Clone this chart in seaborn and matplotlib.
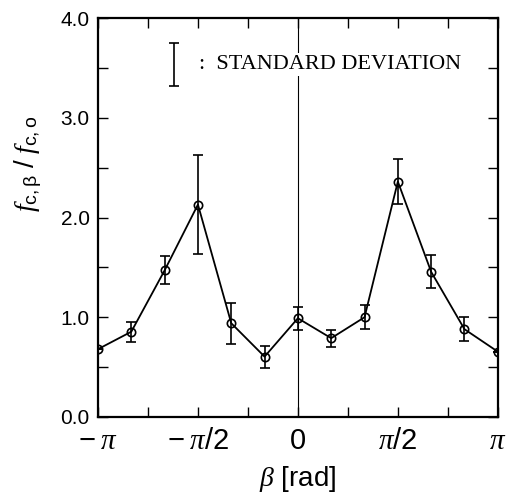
import numpy as np
import matplotlib
matplotlib.use('Agg')
import matplotlib.pyplot as plt
import seaborn as sns

# angle in units of pi/6, ratio f_c,beta / f_c,o and its standard deviation
beta_steps = [-6, -5, -4, -3, -2, -1, 0, 1, 2, 3, 4, 5, 6]
ratio = [0.68, 0.855, 1.47, 2.13, 0.94, 0.605, 0.99, 0.79, 1.00, 2.36, 1.455, 0.88, 0.655]
std_dev = [0.0, 0.10, 0.14, 0.50, 0.205, 0.11, 0.115, 0.085, 0.12, 0.225, 0.165, 0.12, 0.0]

x_tick_labels = [r'$-\;\pi$', r'$-\;\pi/2$', '0', r'$\pi/2$', r'$\pi$']
y_tick_labels = ['0.0', '1.0', '2.0', '3.0', '4.0']

sns.set_style('ticks')
plt.rcParams['font.family'] = ['Liberation Sans', 'DejaVu Sans']
plt.rcParams['mathtext.fontset'] = 'custom'
plt.rcParams['mathtext.rm'] = 'Liberation Sans'
plt.rcParams['mathtext.it'] = 'Liberation Serif:italic'
plt.rcParams['mathtext.bf'] = 'Liberation Sans:bold'
plt.rcParams['text.color'] = 'black'
plt.rcParams['axes.labelcolor'] = 'black'
plt.rcParams['xtick.color'] = 'black'
plt.rcParams['ytick.color'] = 'black'

beta = np.array(beta_steps) * np.pi / 6

fig = plt.figure(figsize=(5.09, 4.95), dpi=100)
ax = fig.add_axes([0.1925, 0.1576, 0.7855, 0.806])

# vertical reference line at beta = 0
ax.axvline(0, color='black', lw=0.8, zorder=1)

sns.lineplot(x=beta, y=ratio, ax=ax, color='black', lw=1.3, marker='o',
             markersize=6, markerfacecolor='none', markeredgecolor='black',
             markeredgewidth=1.2, zorder=3)
ax.errorbar(beta, ratio, yerr=std_dev, fmt='none', ecolor='black',
            elinewidth=1.2, capsize=3.5, capthick=1.2, zorder=2)

# legend: error bar symbol + text
ax.errorbar([-1.95], [3.535], yerr=[0.215], fmt='none', ecolor='black',
            elinewidth=1.2, capsize=3.5, capthick=1.2)
ax.text(-1.55, 3.535, ':  STANDARD DEVIATION', family='Liberation Serif',
        fontsize=16, va='center', ha='left',
        bbox=dict(facecolor='white', edgecolor='none', pad=1.5), zorder=4)

ax.set_xlim(-np.pi, np.pi)
ax.set_ylim(0, 4)
ax.set_xticks(np.array([-1, -0.5, 0, 0.5, 1]) * np.pi)
ax.set_xticklabels(x_tick_labels, fontsize=21)
ax.set_xticks(np.array([-0.75, -0.25, 0.25, 0.75]) * np.pi, minor=True)
ax.set_yticks([0, 1, 2, 3, 4])
ax.set_yticklabels(y_tick_labels, fontsize=15)
ax.set_yticks([0.5, 1.5, 2.5, 3.5], minor=True)

ax.tick_params(which='both', direction='in', top=True, right=True,
               width=1.0, color='black')
ax.tick_params(which='major', length=7, pad=6)
ax.tick_params(axis='x', which='major', pad=7)
ax.tick_params(which='minor', length=7)
for sp in ax.spines.values():
    sp.set_linewidth(1.6)
    sp.set_color('black')

ax.set_xlabel(r'$\beta$ [rad]', fontsize=20, labelpad=7)
ax.set_ylabel(r'$f_{\rm c,\beta}\ /\ f_{\rm c,o}$', fontsize=20)
ax.yaxis.set_label_coords(-0.135, 0.635)

fig.savefig('out.png', dpi=100)
